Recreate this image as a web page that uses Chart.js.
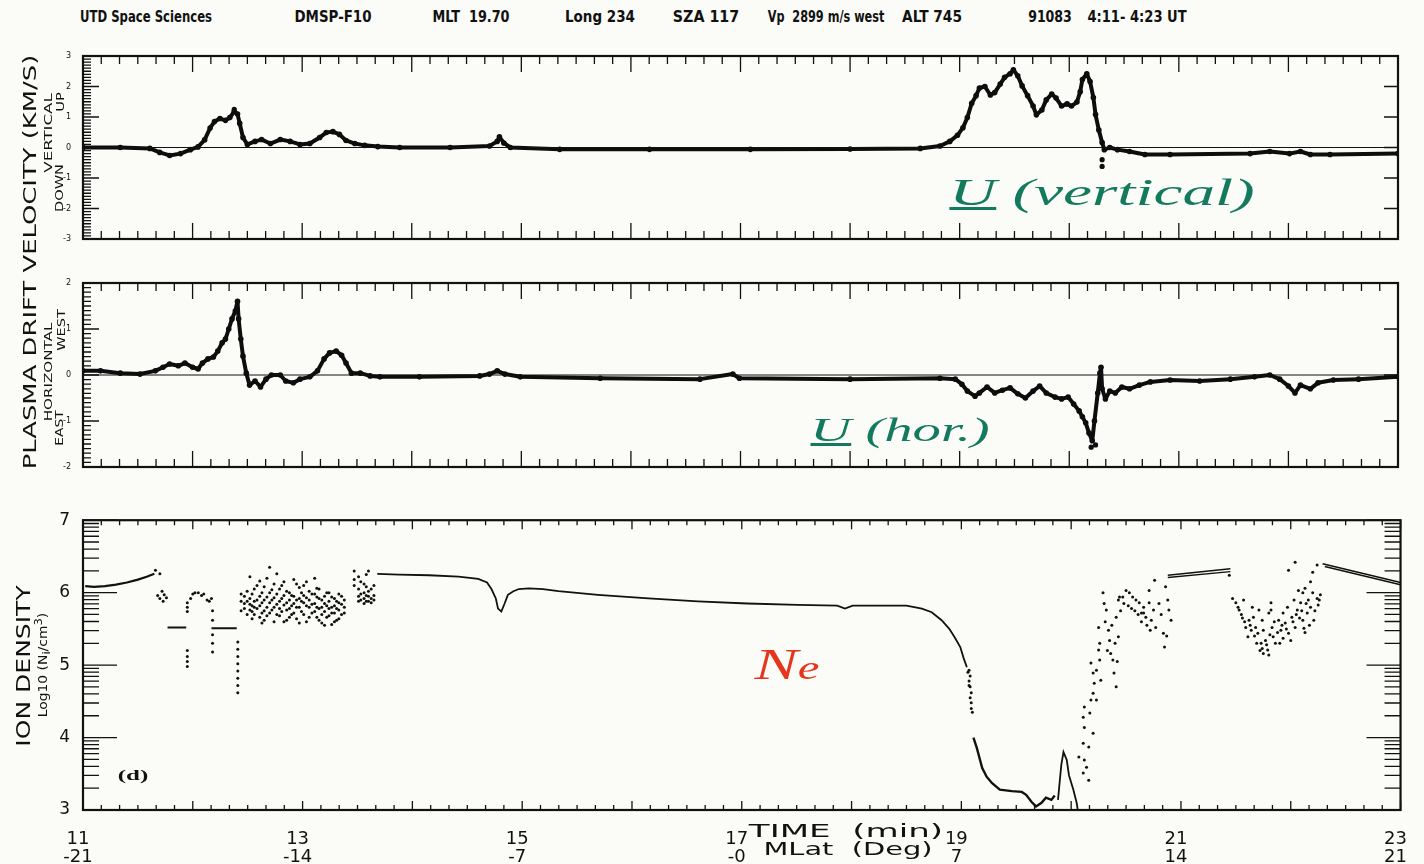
<!DOCTYPE html>
<html>
<head>
<meta charset="utf-8">
<script src="https://cdn.jsdelivr.net/npm/chart.js@4.4.1/dist/chart.umd.min.js"></script>
<style>
  html, body { margin: 0; padding: 0; }
  body { width: 1424px; height: 864px; background: #fbfbf8; position: relative; overflow: hidden; font-family: "DejaVu Sans", sans-serif; color: #111; }
  canvas { position: absolute; left: 0; }
  .lbl { position: absolute; white-space: nowrap; line-height: 1; transform-origin: 50% 50%; }
</style>
</head>
<body>
<canvas id="vertChart" width="1424" height="205" style="top:45px"></canvas>
<canvas id="horChart" width="1424" height="206" style="top:272px"></canvas>
<canvas id="densChart" width="1424" height="359" style="top:505px"></canvas>
<script>
// ==========================================
// DATA  (time in minutes after 4:00 UT)
// ==========================================

const timeTicks = [11, 13, 15, 17, 19, 21, 23];
const latTicks = ['-21', '-14', '-7', '-0', '7', '14', '21'];

// vertical drift, km/s (up positive)
const vertVel = [[11.00,0.0],[11.34,0.0],[11.61,-0.03],[11.70,-0.16],[11.79,-0.26],[11.89,-0.2],[11.98,-0.07],[12.05,0.02],[12.11,0.25],[12.16,0.64],[12.20,0.85],[12.25,0.95],[12.30,0.89],[12.34,0.98],[12.38,1.18],[12.41,1.1],[12.43,0.79],[12.46,0.33],[12.50,0.1],[12.57,0.2],[12.63,0.26],[12.71,0.13],[12.80,0.26],[12.89,0.2],[12.98,0.1],[13.07,0.13],[13.16,0.33],[13.22,0.49],[13.28,0.52],[13.34,0.43],[13.40,0.23],[13.48,0.13],[13.57,0.07],[13.69,0.03],[13.89,0.0],[14.35,0.0],[14.71,0.05],[14.78,0.2],[14.80,0.35],[14.84,0.15],[14.90,0.0],[15.35,-0.06],[16.17,-0.06],[17.09,-0.06],[18.00,-0.05],[18.64,-0.03],[18.82,0.05],[18.91,0.2],[18.98,0.4],[19.03,0.65],[19.07,0.98],[19.11,1.45],[19.15,1.7],[19.18,1.95],[19.23,2.0],[19.28,1.72],[19.32,1.8],[19.37,2.08],[19.41,2.3],[19.46,2.42],[19.49,2.55],[19.53,2.35],[19.57,2.02],[19.62,1.7],[19.67,1.36],[19.70,1.07],[19.75,1.23],[19.79,1.56],[19.84,1.75],[19.88,1.62],[19.93,1.36],[19.98,1.43],[20.02,1.36],[20.07,1.49],[20.10,1.83],[20.12,2.23],[20.16,2.42],[20.19,2.16],[20.22,1.64],[20.24,1.08],[20.27,0.57],[20.30,0.16],[20.32,-0.07],[20.37,0.0],[20.44,-0.07],[20.55,-0.13],[20.69,-0.23],[20.92,-0.23],[21.65,-0.2],[21.83,-0.13],[22.01,-0.2],[22.11,-0.13],[22.20,-0.23],[22.38,-0.23],[23.00,-0.2]];
const vertOutliers = [[20.30,-0.4],[20.30,-0.62],[12.38,1.25]];

// horizontal drift, km/s (west positive)
const horVel = [[11.00,0.09],[11.16,0.09],[11.34,0.04],[11.52,0.02],[11.66,0.09],[11.73,0.17],[11.79,0.24],[11.87,0.2],[11.93,0.26],[12.0,0.17],[12.05,0.13],[12.09,0.26],[12.14,0.35],[12.19,0.39],[12.23,0.52],[12.27,0.7],[12.30,0.78],[12.33,1.0],[12.36,1.22],[12.39,1.39],[12.41,1.6],[12.42,1.22],[12.44,0.78],[12.46,0.41],[12.49,0.04],[12.52,-0.22],[12.57,-0.13],[12.62,-0.26],[12.67,-0.09],[12.72,0],[12.80,0],[12.85,-0.13],[12.92,-0.17],[12.98,-0.09],[13.07,-0.04],[13.14,0.09],[13.20,0.35],[13.25,0.48],[13.31,0.52],[13.36,0.43],[13.40,0.26],[13.45,0.04],[13.53,0.04],[13.62,-0.02],[13.71,-0.04],[14.07,-0.04],[14.62,-0.02],[14.71,0.02],[14.78,0.09],[14.85,0.02],[14.99,-0.04],[15.72,-0.07],[16.63,-0.09],[16.93,0.02],[16.99,-0.07],[18.0,-0.09],[18.82,-0.07],[18.96,-0.09],[19.02,-0.2],[19.07,-0.35],[19.14,-0.46],[19.18,-0.39],[19.25,-0.26],[19.32,-0.39],[19.39,-0.33],[19.46,-0.28],[19.53,-0.41],[19.60,-0.5],[19.67,-0.35],[19.73,-0.24],[19.79,-0.39],[19.87,-0.48],[19.93,-0.52],[19.99,-0.48],[20.04,-0.63],[20.09,-0.78],[20.12,-0.91],[20.15,-1.04],[20.18,-1.26],[20.21,-1.43],[20.23,-1.0],[20.26,-0.39],[20.28,0.04],[20.29,0.17],[20.30,-0.3],[20.33,-0.52],[20.37,-0.35],[20.42,-0.39],[20.48,-0.26],[20.55,-0.3],[20.64,-0.22],[20.74,-0.15],[20.92,-0.11],[21.19,-0.13],[21.47,-0.09],[21.69,-0.04],[21.83,0.0],[21.92,-0.09],[22.0,-0.24],[22.06,-0.39],[22.11,-0.22],[22.2,-0.3],[22.27,-0.17],[22.41,-0.11],[22.64,-0.09],[23.0,-0.04]];
const horOutliers = [[20.20,-1.57],[20.24,-1.52]];

// ion density, log10(Ni/cm3) - continuous stretches
const densStart = [[11.02,6.09],[11.10,6.08],[11.20,6.09],[11.30,6.11],[11.40,6.14],[11.50,6.18],[11.58,6.22],[11.65,6.26]];
const densMain = [[13.68,6.26],[13.88,6.25],[14.15,6.24],[14.42,6.22],[14.60,6.19],[14.68,6.14],[14.72,6.05],[14.76,5.92],[14.78,5.78],[14.81,5.74],[14.84,5.85],[14.87,5.97],[14.92,6.02],[14.97,6.05],[15.06,6.06],[15.19,6.05],[15.33,6.02],[15.69,5.97],[16.15,5.92],[16.60,5.88],[17.05,5.85],[17.51,5.83],[17.87,5.82],[17.94,5.78],[18.01,5.82],[18.23,5.82],[18.50,5.82],[18.64,5.78],[18.73,5.73],[18.82,5.62],[18.89,5.5],[18.94,5.38],[18.99,5.25],[19.02,5.1],[19.05,4.97]];
const densTrough = [[19.11,4.0],[19.14,3.86],[19.17,3.69],[19.19,3.58],[19.23,3.46],[19.28,3.37],[19.35,3.28],[19.46,3.26],[19.55,3.25],[19.59,3.21],[19.64,3.11],[19.68,3.05],[19.73,3.1],[19.77,3.17],[19.82,3.14],[19.85,3.2]];
const densSpike = [[19.88,3.14],[19.91,3.62],[19.93,3.8],[19.96,3.69],[19.98,3.48],[20.02,3.28],[20.05,3.1],[20.06,3.0]];
const dashA = [[11.77,5.52],[11.94,5.52]];
const dashB = [[12.17,5.51],[12.40,5.51]];
const pairH1 = [[20.88,6.24],[21.45,6.33]];
const pairH2 = [[20.88,6.21],[21.45,6.29]];
const pairJ1 = [[22.29,6.40],[23.0,6.14]];
const pairJ2 = [[22.31,6.36],[23.0,6.11]];

// ion density - scattered samples
const dotsEarly = [[11.66,6.31],[11.70,6.26],[11.68,5.96],[11.70,5.92],[11.72,6.02],[11.74,5.97],[11.76,5.93],[11.73,5.88],[11.95,5.2],[11.95,5.12],[11.95,5.05],[11.95,4.98],[11.95,5.86],[11.95,5.8],[11.95,5.74],[11.98,5.92],[12.0,5.98],[12.02,6.0],[12.05,6.0],[12.08,5.96],[12.1,5.98],[12.13,5.9],[12.15,5.88],[12.17,5.92],[12.18,5.75],[12.18,5.62],[12.18,5.42],[12.18,5.3],[12.18,5.18],[12.41,5.32],[12.41,5.22],[12.41,5.12],[12.41,5.02],[12.41,4.92],[12.41,4.82],[12.41,4.72],[12.41,4.62],[12.44,5.98],[12.44,5.88],[12.44,5.75]];
const dotsColumns = [[12.47,[5.95,5.85,5.78]],[12.52,[6.22,5.92,5.84,5.76]],[12.56,[6.05,5.88,5.8,5.7]],[12.61,[6.16,5.95,5.82,5.66]],[12.65,[6.08,5.9,5.75,5.62]],[12.70,[6.35,6.0,5.86,5.72]],[12.74,[6.12,5.93,5.8,5.6]],[12.79,[6.05,5.88,5.78,5.68]],[12.83,[6.15,5.96,5.83,5.6]],[12.88,[6.0,5.9,5.78,5.66]],[12.92,[6.18,5.95,5.85,5.72]],[12.97,[6.07,5.92,5.8,5.58]],[13.01,[6.1,5.96,5.86,5.7]],[13.06,[6.02,5.9,5.8,5.66]],[13.11,[6.2,5.98,5.85,5.74]],[13.15,[6.05,5.92,5.78,5.62]],[13.20,[5.95,5.85,5.74,5.55]],[13.24,[6.0,5.88,5.78,5.68]],[13.29,[5.92,5.82,5.72,5.6]],[13.33,[5.98,5.86,5.76,5.64]],[13.38,[5.9,5.8,5.72]],[13.47,[6.3,6.18,6.1]],[13.51,[6.22,6.05,5.95,5.88]],[13.56,[6.12,6.0,5.92,5.85]],[13.60,[6.3,6.02,5.95,5.88]],[13.65,[6.1,5.96,5.9]],
  [12.495,[6.02,5.88,5.7]],[12.54,[5.98,5.82,5.74,5.64]],[12.585,[6.1,5.9,5.78]],[12.63,[6.0,5.86,5.72,5.58]],[12.675,[6.2,5.94,5.8,5.68]],[12.72,[6.04,5.9,5.76]],[12.765,[6.26,5.98,5.84,5.7]],[12.81,[6.1,5.92,5.74]],[12.855,[6.02,5.86,5.76,5.62]],[12.90,[5.96,5.82,5.7]],[12.945,[6.12,5.9,5.8,5.64]],[12.99,[6.0,5.88,5.74]],[13.035,[6.15,5.93,5.82,5.6]],[13.085,[5.98,5.84,5.72]],[13.13,[6.06,5.94,5.8,5.66]],[13.175,[5.9,5.8,5.7,5.58]],[13.22,[6.0,5.82,5.66]],[13.265,[5.94,5.8,5.72,5.56]],[13.31,[5.88,5.78,5.62]],[13.355,[5.95,5.84,5.7]],[13.53,[6.15,5.98,5.9]],[13.58,[6.25,6.08,5.96,5.88]],[13.625,[6.05,5.92,5.86]]];
const dotsDrop = [[19.07,4.93],[19.08,4.85],[19.07,4.78],[19.08,4.7],[19.09,4.62],[19.08,4.55],[19.09,4.48],[19.09,4.40],[19.10,4.35],[19.06,4.9],[19.07,4.72]];
const dotsRecovery = [[20.07,3.73],[20.11,3.51],[20.12,3.69],[20.14,3.59],[20.16,3.41],[20.11,3.92],[20.12,4.14],[20.11,4.28],[20.12,4.42],[20.17,4.34],[20.18,4.52],[20.20,4.61],[20.21,4.75],[20.20,4.89],[20.18,5.03],[20.23,4.93],[20.26,5.07],[20.25,5.21],[20.26,5.30],[20.27,4.79],[20.23,4.52],[20.20,4.06],[20.16,3.87],[20.25,5.52],[20.29,6.0],[20.32,5.76],[20.34,5.48],[20.35,5.34],[20.36,5.16],[20.38,5.07],[20.39,4.89],[20.41,4.7],[20.43,5.39],[20.41,5.66],[20.43,5.9],[20.44,5.94],[20.47,5.94],[20.50,6.03],[20.53,6.0],[20.56,5.94],[20.59,5.9],[20.62,5.86],[20.66,5.8],[20.66,5.72],[20.68,5.66],[20.71,5.86],[20.73,5.62],[20.75,5.76],[20.76,6.17],[20.77,5.52],[20.71,6.03],[20.84,5.44],[20.85,5.25],[20.86,6.08],[20.88,5.9],[20.89,5.76],[20.91,5.62],[20.64,5.72],[20.30,5.85],[20.31,5.6],[20.33,5.2],[20.37,5.55],[20.40,5.3],[20.42,5.05],[20.45,5.75],[20.48,5.85],[20.52,5.82],[20.55,5.78],[20.58,5.75],[20.61,5.7],[20.64,5.6],[20.69,5.55],[20.72,5.48],[20.80,5.85],[20.82,5.7],[20.87,5.4]];
const dotsLate = [[21.47,5.92],[21.50,5.86],[21.53,5.76],[21.56,5.65],[21.59,5.52],[21.61,5.39],[21.65,5.8],[21.66,5.66],[21.68,5.52],[21.70,5.44],[21.71,5.76],[21.74,5.62],[21.75,5.48],[21.77,5.34],[21.79,5.21],[21.80,5.14],[21.82,5.86],[21.82,5.76],[21.83,5.52],[21.84,5.39],[21.86,5.3],[21.89,5.62],[21.91,5.48],[21.93,5.72],[21.93,5.37],[21.95,5.58],[21.97,5.8],[21.98,5.44],[22.00,5.34],[22.01,5.66],[22.03,5.9],[22.04,5.52],[22.06,5.76],[22.09,5.86],[22.11,5.62],[22.12,5.51],[22.13,5.45],[22.15,5.72],[22.16,5.9],[22.18,5.8],[22.20,6.0],[22.21,5.62],[22.24,5.92],[22.25,5.83],[22.27,5.97],[22.07,6.03],[22.11,6.0],[22.13,6.06],[22.18,6.15],[22.20,6.28],[22.24,6.38],[22.04,6.42],[21.98,6.31],[21.62,5.62],[21.57,5.9],[21.64,5.48],[21.73,5.3],[21.74,5.23],[21.75,5.16],[21.80,5.72],[21.44,6.24],[21.52,5.8],[21.55,5.7],[21.58,5.6],[21.63,5.55],[21.67,5.4],[21.69,5.3],[21.72,5.2],[21.78,5.28],[21.81,5.42],[21.85,5.6],[21.88,5.45],[21.90,5.3],[21.92,5.55],[21.96,5.5],[22.02,5.6],[22.05,5.7],[22.08,5.65],[22.10,5.75],[22.14,5.85],[22.17,5.55],[22.22,5.75],[22.26,5.9]];

// ==========================================
// HELPERS
// ==========================================

const xy = arr => arr.map(([x, y]) => ({ x, y }));
const columnsToXY = cols => cols.flatMap(([x, ys]) => ys.map(y => ({ x, y })));

Chart.defaults.font.family = '"DejaVu Sans", sans-serif';
Chart.defaults.color = '#111';

// frame + inward tick marks like the original plotter output
const frameTicks = {
    id: 'frameTicks',
    afterDraw(chart, args, o) {
        const { ctx, chartArea: a, scales } = chart;
        const x = scales.x, y = scales.y;
        ctx.save();
        ctx.strokeStyle = '#111';
        ctx.lineWidth = 1.3;
        ctx.beginPath();
        for (let i = 0; i <= 72; i++) {
            const px = x.getPixelForValue(11 + i / 6);
            const len = i % 6 === 0 ? o.xMajor : o.xMinor;
            ctx.moveTo(px, a.top); ctx.lineTo(px, a.top + len);
            ctx.moveTo(px, a.bottom); ctx.lineTo(px, a.bottom - len);
        }
        o.yTicks.forEach(([v, len, right]) => {
            const py = y.getPixelForValue(v);
            ctx.moveTo(a.left, py); ctx.lineTo(a.left + len, py);
            if (right) { ctx.moveTo(a.right, py); ctx.lineTo(a.right - right, py); }
        });
        ctx.stroke();
        ctx.lineWidth = 2.2;
        ctx.strokeRect(a.left, a.top, a.right - a.left, a.bottom - a.top);
        ctx.restore();
    }
};

// [value, left length, right length]
function linearTicks(min, max) {
    const out = [];
    for (let k = min * 10; k <= max * 10; k++) {
        const major = k % 10 === 0;
        out.push([k / 10, major ? 16 : 8, major ? 14 : 0]);
    }
    return out;
}

function logTicks() {
    const out = [];
    for (let d = 3; d <= 7; d++) {
        out.push([d, 34, 34]);
        if (d < 7) for (let k = 2; k <= 9; k++) out.push([d + Math.log10(k), 16, 16]);
    }
    return out;
}

function velocityDatasets(series, outliers) {
    return [
        {
            data: [{ x: 11, y: 0 }, { x: 23, y: 0 }],
            showLine: true, borderColor: '#111', borderWidth: 1.2, pointRadius: 0
        },
        {
            data: xy(series),
            showLine: true, borderColor: '#0d0d0d', borderWidth: 4, borderJoinStyle: 'round',
            pointRadius: 2.8, pointBackgroundColor: '#0d0d0d', pointBorderWidth: 0
        },
        {
            data: xy(outliers),
            showLine: false, pointRadius: 2.6, pointBackgroundColor: '#0d0d0d', pointBorderWidth: 0
        }
    ];
}

function velocityPanel(id, series, outliers, yMin, yMax) {
    return new Chart(document.getElementById(id), {
        type: 'scatter',
        data: { datasets: velocityDatasets(series, outliers) },
        options: {
            responsive: false,
            animation: false,
            layout: { padding: { top: 11, bottom: 11, left: 0, right: 26 } },
            plugins: {
                legend: { display: false },
                tooltip: { enabled: false },
                frameTicks: { xMajor: 16, xMinor: 8, yTicks: linearTicks(yMin, yMax) }
            },
            scales: {
                x: { type: 'linear', min: 11, max: 23, display: false },
                y: {
                    type: 'linear', min: yMin, max: yMax,
                    grid: { display: false }, border: { display: false },
                    ticks: { stepSize: 1, font: { size: 8 }, padding: 4 },
                    afterFit: s => { s.width = 83; }
                }
            }
        },
        plugins: [frameTicks]
    });
}

// ==========================================
// CHARTS
// ==========================================

velocityPanel('vertChart', vertVel, vertOutliers, -3, 3);
velocityPanel('horChart', horVel, horOutliers, -2, 2);

const lineSet = (arr, w) => ({
    data: xy(arr), showLine: true, borderColor: '#111', borderWidth: w || 1.8, pointRadius: 0
});
const dotSet = pts => ({
    data: pts, showLine: false, pointRadius: 1.5, pointBackgroundColor: '#111', pointBorderWidth: 0
});

new Chart(document.getElementById('densChart'), {
    type: 'scatter',
    data: {
        datasets: [
            lineSet(densStart, 2.2),
            lineSet(densMain, 1.8),
            lineSet(densTrough, 2.4),
            lineSet(densSpike, 1.8),
            lineSet(dashA, 2), lineSet(dashB, 2),
            lineSet(pairH1, 1.4), lineSet(pairH2, 1.4),
            lineSet(pairJ1, 1.6), lineSet(pairJ2, 1.6),
            dotSet(xy(dotsEarly)),
            dotSet(columnsToXY(dotsColumns)),
            dotSet(xy(dotsDrop)),
            dotSet(xy(dotsRecovery)),
            dotSet(xy(dotsLate))
        ]
    },
    options: {
        responsive: false,
        animation: false,
        layout: { padding: { top: 15, bottom: 0, left: 0, right: 19 } },
        plugins: {
            legend: { display: false },
            tooltip: { enabled: false },
            frameTicks: { xMajor: 9, xMinor: 5, yTicks: logTicks() }
        },
        scales: {
            x: {
                type: 'linear', min: 11, max: 23,
                grid: { display: false }, border: { display: false },
                afterBuildTicks: s => { s.ticks = timeTicks.map(v => ({ value: v })); },
                ticks: {
                    autoSkip: false, maxRotation: 0, padding: 12, labelOffset: -5,
                    font: { size: 18, lineHeight: 1.0 },
                    callback: (v, i) => [String(v), latTicks[i]]
                },
                afterFit: s => { s.height = 54; }
            },
            y: {
                type: 'linear', min: 3, max: 7,
                grid: { display: false }, border: { display: false },
                ticks: { stepSize: 1, font: { size: 17 }, padding: 5 },
                afterFit: s => { s.width = 83; }
            }
        }
    },
    plugins: [frameTicks]
});

// ==========================================
// TEXT (header, axis titles, hand annotations)
// ==========================================

const hdr = { s: 16, f: '"DejaVu Sans", sans-serif', wt: 600 };
const texts = [
    { t: 'UTD Space Sciences', x: 146, y: 17, w: 132, ...hdr },
    { t: 'DMSP-F10', x: 333, y: 17, w: 77, ...hdr },
    { t: 'MLT&nbsp; 19.70', x: 471, y: 17, w: 77, ...hdr },
    { t: 'Long 234', x: 600, y: 17, w: 70, ...hdr },
    { t: 'SZA 117', x: 706, y: 17, w: 66, ...hdr },
    { t: 'Vp&nbsp; 2899 m/s west', x: 826, y: 17, w: 117, ...hdr },
    { t: 'ALT 745', x: 932, y: 17, w: 60, ...hdr },
    { t: '91083', x: 1050, y: 17, w: 44, ...hdr },
    { t: '4:11- 4:23 UT', x: 1137, y: 17, w: 99, ...hdr },
    { t: 'PLASMA DRIFT VELOCITY (KM/S)', x: 30, y: 262, w: 415, s: 18, r: -90 },
    { t: 'VERTICAL', x: 48, y: 133, w: 80, s: 11, r: -90 },
    { t: 'UP', x: 61, y: 102, w: 19, s: 10, r: -90 },
    { t: 'DOWN', x: 60, y: 188, w: 48, s: 10, r: -90 },
    { t: 'HORIZONTAL', x: 48, y: 372, w: 99, s: 11, r: -90 },
    { t: 'WEST', x: 62, y: 330, w: 42, s: 10, r: -90 },
    { t: 'EAST', x: 60, y: 428, w: 36, s: 10, r: -90 },
    { t: 'ION DENSITY', x: 23, y: 666, w: 162, s: 19, r: -90 },
    { t: 'Log10 (N<sub>i</sub>/cm<sup>3</sup>)', x: 43, y: 665, w: 104, s: 12, r: -90 },
    { t: '(d)', x: 133, y: 775, w: 30, s: 15, f: '"Liberation Serif", serif', wt: 700 },
    { t: 'TIME&nbsp; (min)', x: 846, y: 831, w: 195, s: 18 },
    { t: 'MLat&nbsp; (Deg)', x: 848, y: 849, w: 170, s: 18 },
    { t: '<u>U</u> (vertical)', x: 1102, y: 192, w: 305, s: 38, c: '#137a5e', f: '"Liberation Serif", serif', st: 'italic' },
    { t: '<u>U</u> (hor.)', x: 900, y: 430, w: 180, s: 34, c: '#137a5e', f: '"Liberation Serif", serif', st: 'italic' },
    { t: 'N<span style="font-size:0.75em">e</span>', x: 787, y: 665, w: 65, s: 44, c: '#e5361d', f: '"Liberation Serif", serif', st: 'italic' }
];

texts.forEach(d => {
    const el = document.createElement('div');
    el.className = 'lbl';
    el.innerHTML = d.t;
    el.style.left = d.x + 'px';
    el.style.top = d.y + 'px';
    el.style.fontSize = d.s + 'px';
    el.style.fontFamily = d.f || '"DejaVu Sans", sans-serif';
    el.style.fontWeight = d.wt || 400;
    el.style.fontStyle = d.st || 'normal';
    el.style.color = d.c || '#111';
    document.body.appendChild(el);
    const k = d.w / el.offsetWidth;
    el.style.transform = `translate(-50%,-50%) rotate(${d.r || 0}deg) scale(${k},1)`;
});
</script>
</body>
</html>
